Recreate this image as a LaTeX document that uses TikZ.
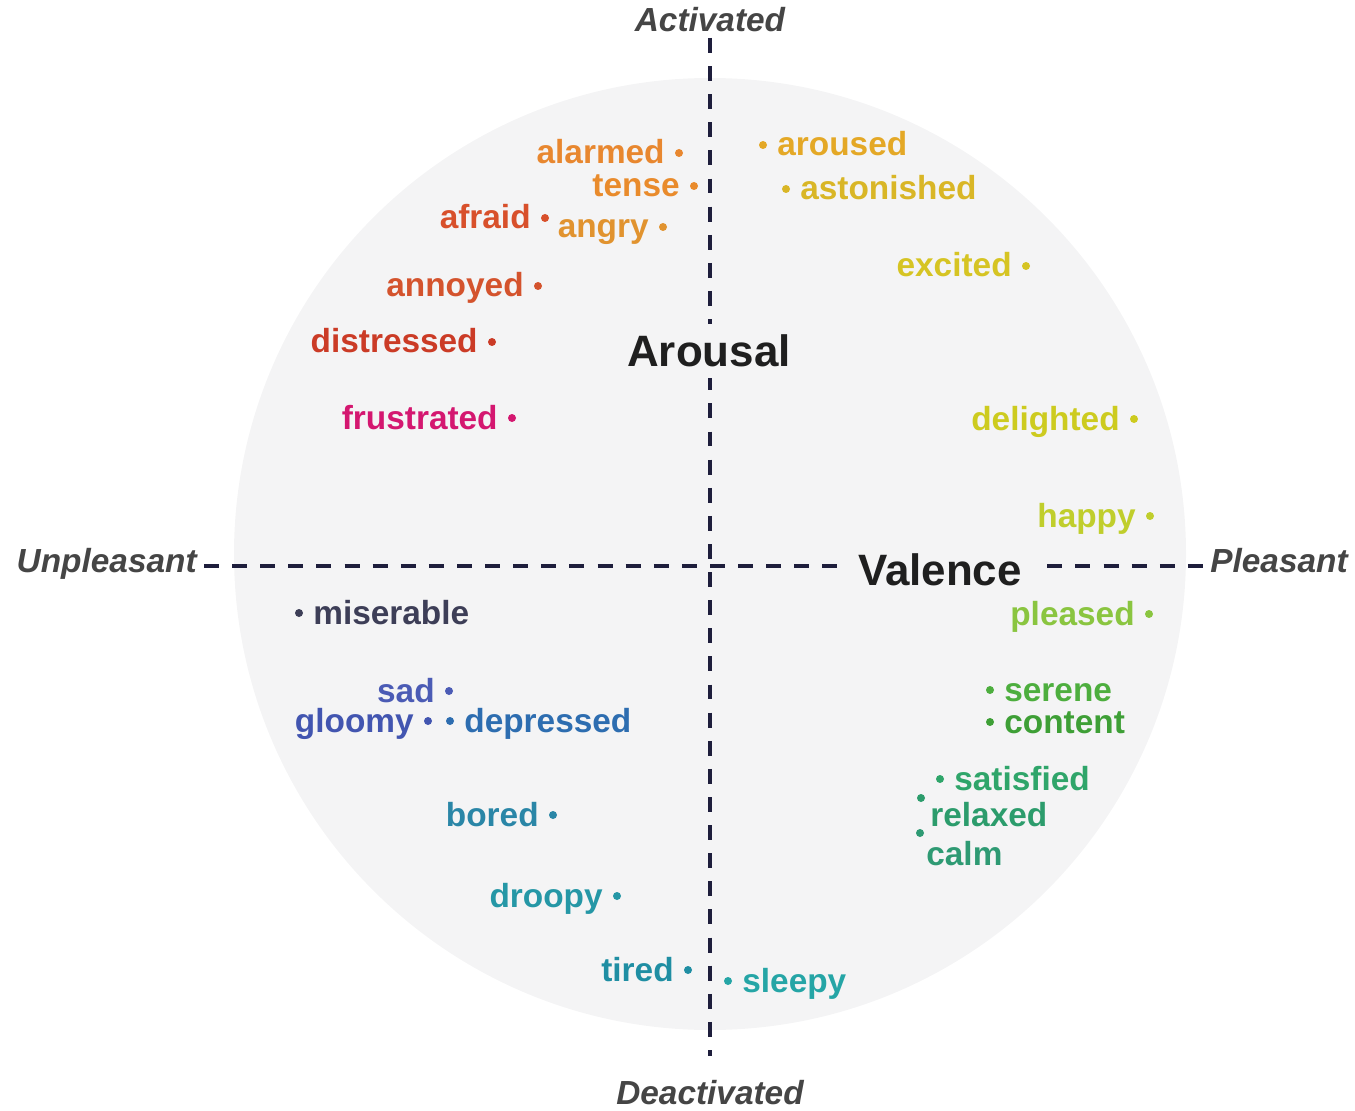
\documentclass[tikz,border=0pt]{standalone}
\usepackage{fontspec}
\setmainfont{Liberation Sans}
\usetikzlibrary{positioning}

\definecolor{disk}{HTML}{F4F4F5}
\definecolor{axisline}{HTML}{1E1E3C}
\definecolor{axislabel}{HTML}{454545}
\definecolor{alarmedc}{HTML}{E8872F}
\definecolor{tensec}{HTML}{E98B2C}
\definecolor{angryc}{HTML}{E1932F}
\definecolor{afraidc}{HTML}{D8502B}
\definecolor{annoyedc}{HTML}{D4532D}
\definecolor{distressedc}{HTML}{CB3B26}
\definecolor{frustratedc}{HTML}{D41770}
\definecolor{arousedc}{HTML}{E4A826}
\definecolor{astonishedc}{HTML}{D9B626}
\definecolor{excitedc}{HTML}{D6C423}
\definecolor{delightedc}{HTML}{CDCB1F}
\definecolor{happyc}{HTML}{C0CE2C}
\definecolor{pleasedc}{HTML}{8AC540}
\definecolor{serenec}{HTML}{4DAE3E}
\definecolor{contentc}{HTML}{3E9F36}
\definecolor{satisfiedc}{HTML}{2FA56A}
\definecolor{relaxedc}{HTML}{2C9C6C}
\definecolor{calmc}{HTML}{2E9A73}
\definecolor{sleepyc}{HTML}{25A5A6}
\definecolor{tiredc}{HTML}{1F8EA3}
\definecolor{droopyc}{HTML}{2597A6}
\definecolor{boredc}{HTML}{2A86A7}
\definecolor{depressedc}{HTML}{2D6DB0}
\definecolor{gloomyc}{HTML}{4255B0}
\definecolor{sadc}{HTML}{4B5BB5}
\definecolor{miserablec}{HTML}{3D3E57}

\begin{document}
\begin{tikzpicture}[x=0.02cm, y=-0.02cm,
    every node/.style={font=\bfseries\fontsize{19}{22}\selectfont, inner sep=0pt},
    pt/.style={circle, fill, inner sep=0pt, minimum size=0.16cm},
    axis/.style={axisline, line width=2pt, dash pattern=on 8.5pt off 7.5pt},
    pole/.style={axislabel, font=\bfseries\itshape\fontsize{19}{22}\selectfont},
    title/.style={fill=disk, font=\bfseries\fontsize{25}{30}\selectfont, text=black!88}]
    \useasboundingbox (0,0) rectangle (1355,1111);
    \fill[disk] (710,554) circle (476);

    % axes
    \node[pole] (act) at (710,20) {Activated};
    \node[pole] (deact) at (710,1093) {Deactivated};
    \node[pole, anchor=mid east] (unpl) at (197,568) {Unpleasant};
    \node[pole, anchor=mid west] (pleas) at (1210,568) {Pleasant};
    \coordinate (top) at (710,38);
    \coordinate (bot) at (710,1056);
    \draw[axis] (top) -- (bot);
    \draw[axis, shorten <=4pt, shorten >=3pt] (unpl.east |- 0,566) -- (pleas.west |- 0,566);
    \node[title, inner xsep=2pt, inner ysep=0.22cm] (arousal) at (709,351) {Arousal};
    \node[title, inner xsep=0.26cm, inner ysep=4pt] (valence) at (940,570) {Valence};

    % activated, unpleasant
    \node[pt, alarmedc] (alarmedpt) at (679,153) {};
    \node[alarmedc, anchor=base east] (alarmed) at ([shift={(-14,11)}]alarmedpt) {alarmed};
    \node[pt, tensec] (tensept) at (694,186) {};
    \node[tensec, anchor=base east] (tense) at ([shift={(-14,11)}]tensept) {tense};
    \node[pt, afraidc] (afraidpt) at (545,218) {};
    \node[afraidc, anchor=base east] (afraid) at ([shift={(-14,11)}]afraidpt) {afraid};
    \node[pt, angryc] (angrypt) at (663,227) {};
    \node[angryc, anchor=base east] (angry) at ([shift={(-14,11)}]angrypt) {angry};
    \node[pt, annoyedc] (annoyedpt) at (538,286) {};
    \node[annoyedc, anchor=base east] (annoyed) at ([shift={(-14,11)}]annoyedpt) {annoyed};
    \node[pt, distressedc] (distressedpt) at (492,342) {};
    \node[distressedc, anchor=base east] (distressed) at ([shift={(-14,11)}]distressedpt) {distressed};
    \node[pt, frustratedc] (frustratedpt) at (512,418) {};
    \node[frustratedc, anchor=base east] (frustrated) at ([shift={(-14,11)}]frustratedpt) {frustrated};

    % activated, pleasant
    \node[pt, arousedc] (arousedpt) at (763,145) {};
    \node[arousedc, anchor=base west] (aroused) at ([shift={(14,11)}]arousedpt) {aroused};
    \node[pt, astonishedc] (astonishedpt) at (786,189) {};
    \node[astonishedc, anchor=base west] (astonished) at ([shift={(14,11)}]astonishedpt) {astonished};
    \node[pt, excitedc] (excitedpt) at (1026,266) {};
    \node[excitedc, anchor=base east] (excited) at ([shift={(-14,11)}]excitedpt) {excited};
    \node[pt, delightedc] (delightedpt) at (1134,419) {};
    \node[delightedc, anchor=base east] (delighted) at ([shift={(-14,11)}]delightedpt) {delighted};
    \node[pt, happyc] (happypt) at (1150,516) {};
    \node[happyc, anchor=base east] (happy) at ([shift={(-14,11)}]happypt) {happy};

    % deactivated, pleasant
    \node[pt, pleasedc] (pleasedpt) at (1149,614) {};
    \node[pleasedc, anchor=base east] (pleased) at ([shift={(-14,11)}]pleasedpt) {pleased};
    \node[pt, serenec] (serenept) at (990,690) {};
    \node[serenec, anchor=base west] (serene) at ([shift={(14,11)}]serenept) {serene};
    \node[pt, contentc] (contentpt) at (990,722) {};
    \node[contentc, anchor=base west] (content) at ([shift={(14,11)}]contentpt) {content};
    \node[pt, satisfiedc] (satisfiedpt) at (940,779) {};
    \node[satisfiedc, anchor=base west] (satisfied) at ([shift={(14,11)}]satisfiedpt) {satisfied};
    \node[pt, relaxedc] (relaxedpt) at (921,798) {};
    \node[relaxedc, anchor=base west] (relaxed) at ([shift={(9,28)}]relaxedpt) {relaxed};
    \node[pt, calmc] (calmpt) at (920,833) {};
    \node[calmc, anchor=base west] (calm) at ([shift={(6,32)}]calmpt) {calm};
    \node[pt, sleepyc] (sleepypt) at (728,981) {};
    \node[sleepyc, anchor=base west] (sleepy) at ([shift={(14,11)}]sleepypt) {sleepy};

    % deactivated, unpleasant
    \node[pt, tiredc] (tiredpt) at (688,970) {};
    \node[tiredc, anchor=base east] (tired) at ([shift={(-14,11)}]tiredpt) {tired};
    \node[pt, droopyc] (droopypt) at (617,896) {};
    \node[droopyc, anchor=base east] (droopy) at ([shift={(-14,11)}]droopypt) {droopy};
    \node[pt, boredc] (boredpt) at (553,815) {};
    \node[boredc, anchor=base east] (bored) at ([shift={(-14,11)}]boredpt) {bored};
    \node[pt, depressedc] (depressedpt) at (450,721) {};
    \node[depressedc, anchor=base west] (depressed) at ([shift={(14,11)}]depressedpt) {depressed};
    \node[pt, gloomyc] (gloomypt) at (428,721) {};
    \node[gloomyc, anchor=base east] (gloomy) at ([shift={(-14,11)}]gloomypt) {gloomy};
    \node[pt, sadc] (sadpt) at (449,691) {};
    \node[sadc, anchor=base east] (sad) at ([shift={(-14,11)}]sadpt) {sad};
    \node[pt, miserablec] (miserablept) at (299,613) {};
    \node[miserablec, anchor=base west] (miserable) at ([shift={(14,11)}]miserablept) {miserable};
\end{tikzpicture}
\end{document}
